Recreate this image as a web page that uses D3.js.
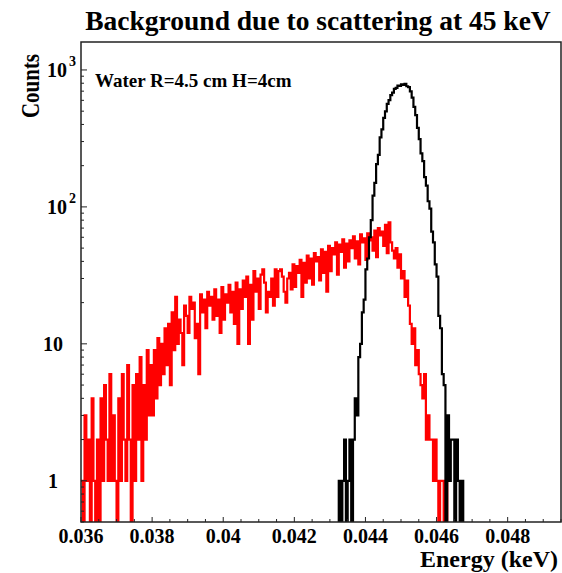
<!DOCTYPE html>
<html lang="en">
<head>
<meta charset="UTF-8">
<script src="https://d3js.org/d3.v7.min.js"></script>
<title>Background due to scattering at 45 keV</title>
<style>
  body { margin: 0; background: #fff; }
  svg { display: block; font-family: "Liberation Serif", "DejaVu Serif", serif; }
</style>
</head>
<body>
<svg id="plot"></svg>
<script>
// histogram bins, width in keV
const binWidth = 0.00005;

// scattered background (red), first bin starts at 0.036
const redStart = 0.036;
const redCounts = [
  1,0,3,1,2,0,4,1,0,2,
  0,4,1,5,2,1,6,1,3,1,
  0,4,1,6,2,1,7,2,0,5,
  1,6,2,8,1,5,2,9,3,7,
  3,9,4,11,5,10,6,13,7,14,
  5,17,9,22,10,15,12,7,19,16,
  12,22,18,20,11,14,6,23,17,21,
  13,24,19,22,15,25,16,21,12,26,
  15,23,20,27,17,24,14,28,10,25,
  18,29,22,31,10,27,15,34,24,30,
  18,32,35,28,17,24,22,30,19,35,
  22,34,35,31,24,20,30,33,25,38,
  26,37,33,41,22,39,28,44,30,42,
  27,46,40,43,29,49,33,47,24,52,
  34,50,45,55,32,53,47,58,36,54,
  40,57,50,61,42,56,38,63,55,59,
  41,64,57,60,48,67,43,70,62,66,
  52,74,46,77,55,48,42,50,36,45,
  30,34,22,29,19,14,10,13,7,9,
  6,5,4,6,2,3,2,2,1,2,
  1,0,1,1,0,1,0
];

// full energy peak (black), first bin starts at 0.0432
const blackStart = 0.0432;
const blackCounts = [
  0,1,0,1,2,0,1,2,0,2,
  4,3,8,10,17,21,35,42,60,80,
  121,150,205,240,322,368,447,498,566,602,
  655,684,728,741,768,764,786,779,792,760,
  748,698,628,538,468,378,312,246,216,165,
  143,110,97,66,55,38,31,16,13,6,
  5,0,3,1,2,2,0,2,1,0,1,0
];

const xTicks = [0.036, 0.038, 0.040, 0.042, 0.044, 0.046, 0.048];
const xTickLabels = ["0.036", "0.038", "0.04", "0.042", "0.044", "0.046", "0.048"];
const yTicks = [1, 10, 100, 1000];
const yTickBase = ["1", "10", "10", "10"];
const yTickExp = ["", "", "2", "3"];

const width = 562, height = 573;
const margin = {top: 42, right: 1, bottom: 51, left: 81};

const svg = d3.select("#plot").attr("width", width).attr("height", height);

const x = d3.scaleLinear()
    .domain([0.036, 0.0495])
    .range([margin.left, width - margin.right]);

const y = d3.scaleLog()
    .domain([0.5, 1600])
    .range([height - margin.bottom, margin.top]);

const yBottom = height - margin.bottom;

svg.append("clipPath").attr("id", "clip")
  .append("rect")
    .attr("x", margin.left).attr("y", margin.top)
    .attr("width", width - margin.right - margin.left)
    .attr("height", yBottom - margin.top);

// step outline like a ROOT histogram; empty bins drop below the frame
function stepPoints(start, counts) {
  const pts = [];
  counts.forEach((c, i) => {
    const yy = c > 0 ? y(c) : yBottom + 20;
    pts.push([x(start + i * binWidth), yy]);
    pts.push([x(start + (i + 1) * binWidth), yy]);
  });
  return pts;
}

const line = d3.line();
const hg = svg.append("g").attr("clip-path", "url(#clip)");
hg.append("path")
    .attr("d", line(stepPoints(redStart, redCounts)))
    .attr("fill", "none").attr("stroke", "#ff0000").attr("stroke-width", 2.2);
hg.append("path")
    .attr("d", line(stepPoints(blackStart, blackCounts)))
    .attr("fill", "none").attr("stroke", "#000").attr("stroke-width", 2.2);

// frame
svg.append("rect")
    .attr("x", margin.left).attr("y", margin.top)
    .attr("width", width - margin.right - margin.left)
    .attr("height", yBottom - margin.top)
    .attr("fill", "none").attr("stroke", "#222").attr("stroke-width", 1.5);

// x axis ticks (inside), minor every 0.0005
const xAxis = svg.append("g");
d3.range(0.036, 0.0496, 0.0005).forEach(v => {
  const major = xTicks.some(t => Math.abs(t - v) < 1e-7);
  xAxis.append("line")
      .attr("x1", x(v)).attr("x2", x(v))
      .attr("y1", yBottom).attr("y2", yBottom - (major ? 5 : 3))
      .attr("stroke", "#222").attr("stroke-width", 1);
});
xAxis.selectAll("text.tl").data(xTicks).enter().append("text")
    .attr("class", "tl")
    .attr("x", d => x(d)).attr("y", 543)
    .attr("text-anchor", "middle")
    .attr("font-size", 20).attr("font-weight", "bold")
    .text((d, i) => xTickLabels[i]);

// y axis ticks (log), minor at 2..9 of each decade
const yAxis = svg.append("g");
[0.1, 1, 10, 100, 1000].forEach(dec => {
  for (let k = 1; k <= 9; k++) {
    const v = dec * k;
    if (v < 0.5 || v > 1600) continue;
    yAxis.append("line")
        .attr("x1", margin.left).attr("x2", margin.left + (k === 1 ? 6 : 3))
        .attr("y1", y(v)).attr("y2", y(v))
        .attr("stroke", "#222").attr("stroke-width", 1);
  }
});
yTicks.forEach((t, i) => {
  if (yTickExp[i]) {
    yAxis.append("text")
        .attr("x", 67).attr("y", y(t) + 7)
        .attr("text-anchor", "end")
        .attr("font-size", 20).attr("font-weight", "bold")
        .text(yTickBase[i]);
    yAxis.append("text")
        .attr("x", 69).attr("y", y(t) - 4)
        .attr("font-size", 14).attr("font-weight", "bold")
        .text(yTickExp[i]);
  } else {
    yAxis.append("text")
        .attr("x", 53).attr("y", y(t) + 7)
        .attr("text-anchor", "middle")
        .attr("font-size", 20).attr("font-weight", "bold")
        .text(yTickBase[i]);
  }
});

// titles
svg.append("text")
    .attr("x", 318).attr("y", 30)
    .attr("text-anchor", "middle")
    .attr("font-size", 27.5).attr("font-weight", "bold")
    .text("Background due to scattering at 45 keV");

svg.append("text")
    .attr("transform", "translate(39,118) rotate(-90)")
    .attr("font-size", 25).attr("font-weight", "bold")
    .attr("textLength", 64).attr("lengthAdjust", "spacingAndGlyphs")
    .text("Counts");

svg.append("text")
    .attr("x", 558).attr("y", 567)
    .attr("text-anchor", "end")
    .attr("font-size", 24).attr("font-weight", "bold")
    .text("Energy (keV)");

svg.append("text")
    .attr("x", 95).attr("y", 87)
    .attr("font-size", 19).attr("font-weight", "bold")
    .text("Water R=4.5 cm H=4cm");
</script>
</body>
</html>
